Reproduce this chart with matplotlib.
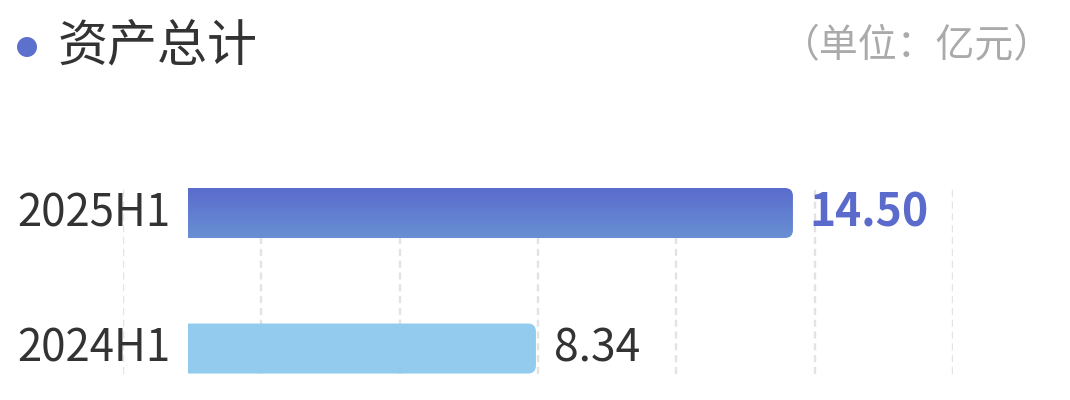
import numpy as np
import matplotlib
matplotlib.use("Agg")
import matplotlib.pyplot as plt
from matplotlib.path import Path
from matplotlib.patches import PathPatch, Ellipse
import matplotlib.transforms as mtrans

plt.rcParams['font.family'] = ['Noto Sans CJK SC', 'DejaVu Sans']

categories = ["2024H1", "2025H1"]
values = [8.34, 14.50]
value_labels = ["8.34", "14.50"]
title = "资产总计"
unit = "（单位：亿元）"

W, H = 1070, 400
fig = plt.figure(figsize=(W / 100, H / 100), dpi=100)
ax = fig.add_axes([123 / W, 26 / H, 830 / W, 187 / H])

px_per_unit = 41.72
xmin = (123 - 188) / px_per_unit
xmax = (953 - 188) / px_per_unit
ylo, yhi = -0.188, 1.192
ax.set_xlim(xmin, xmax)
ax.set_ylim(ylo, yhi)
bar_h = 50 / 135.5

ax.set_xticks(np.linspace(xmin, xmax, 7))
ax.grid(axis='x', color='#e3e3e3', linestyle=(0, (3, 2)), linewidth=1.7)
ax.tick_params(left=False, bottom=False, labelleft=False, labelbottom=False)
for s in ax.spines.values():
    s.set_visible(False)
ax.set_axisbelow(True)

ypos = np.arange(len(categories))
bars = ax.barh(ypos, values, height=bar_h, left=0, color='none', edgecolor='none')

rx = 8 / px_per_unit
ry = 8 / 135.5


def rounded_right(x0, y0, w, h):
    verts = [
        (x0, y0), (x0 + w - rx, y0), (x0 + w, y0), (x0 + w, y0 + ry),
        (x0 + w, y0 + h - ry), (x0 + w, y0 + h), (x0 + w - rx, y0 + h),
        (x0, y0 + h), (x0, y0),
    ]
    codes = [Path.MOVETO, Path.LINETO, Path.CURVE3, Path.CURVE3,
             Path.LINETO, Path.CURVE3, Path.CURVE3, Path.LINETO, Path.CLOSEPOLY]
    return Path(verts, codes)


top_c = np.array([90, 107, 205]) / 255
bot_c = np.array([105, 144, 211]) / 255
t = np.linspace(0, 1, 100)[:, None, None]
grad_img = top_c * (1 - t) + bot_c * t  # row 0 = top colour

for i, b in enumerate(bars):
    x0, y0, w, h = b.get_x(), b.get_y(), b.get_width(), b.get_height()
    p = rounded_right(x0, y0, w, h)
    if categories[i] == "2025H1":
        patch = PathPatch(p, facecolor='none', edgecolor='none')
        ax.add_patch(patch)
        img = np.repeat(grad_img, 2, axis=1)
        im = ax.imshow(img, extent=[x0, x0 + w, y0, y0 + h], origin='upper',
                       aspect='auto', zorder=3, interpolation='bilinear')
        im.set_clip_path(patch)
        ax.annotate(value_labels[i], (x0 + w, y0 + h / 2), xytext=(12.0, 0),
                    textcoords='offset points', ha='left', va='center',
                    fontsize=32, fontweight='bold', color='#5b6bcc')
    else:
        ax.add_patch(PathPatch(p, facecolor='#93cbee', edgecolor='none', zorder=3))
        ax.annotate(value_labels[i], (x0 + w, y0 + h / 2), xytext=(13.0, 0),
                    textcoords='offset points', ha='left', va='center',
                    fontsize=32, color='#333333')

ax.set_xlim(xmin, xmax)
ax.set_ylim(ylo, yhi)

trans = mtrans.blended_transform_factory(ax.transAxes, ax.transData)
for i, c in enumerate(categories):
    ax.text((171 - 123) / 830, ypos[i], c, transform=trans, ha='right', va='center',
            fontsize=31.5, color='#333333')

# header
fig.patches.append(Ellipse((27 / W, 1 - 47 / H), 20 / W, 20 / H,
                           transform=fig.transFigure,
                           facecolor='#5c70cd', edgecolor='none'))
fig.text(58 / W, 1 - 46 / H, title, ha='left', va='center', fontsize=36, color='#333333')
fig.text(1053 / W, 1 - 46 / H, unit, ha='right', va='center', fontsize=28, color='#aaaaaa')

fig.savefig('out.png', dpi=100)
